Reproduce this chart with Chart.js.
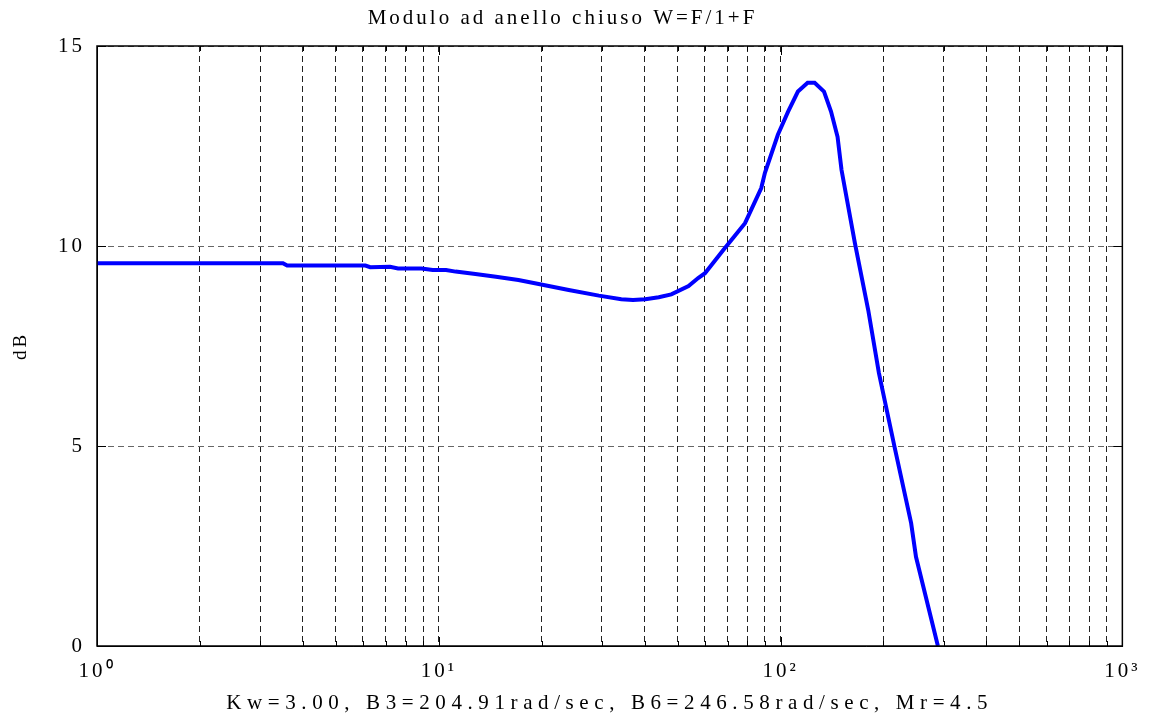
<!DOCTYPE html>
<html>
<head>
<meta charset="utf-8">
<script src="https://cdn.jsdelivr.net/npm/chart.js@4.4.1/dist/chart.umd.min.js"></script>
<style>
  html, body { margin: 0; padding: 0; background: #fff; }
  #wrap { width: 1149px; height: 718px; }
</style>
</head>
<body>
<div id="wrap"><canvas id="c" width="1149" height="718"></canvas></div>
<script>
// ---- data ----
const freqs = [1, 2, 3, 3.5, 3.6, 6.1, 6.3, 7.2, 7.6, 8.9, 9.6, 10.5, 11.2, 12.8, 14.7, 17.1, 19.6, 24, 29.4, 34.2, 37, 40.2, 44, 47.9, 53.8, 57.4, 60.1, 68, 78.7, 87.8, 90, 98.2, 105.2, 112.4, 120, 125.8, 134, 140.5, 146.8, 150.8, 165, 180.5, 194, 215.5, 241, 249, 288.6];
const magsDb = [9.57, 9.57, 9.57, 9.57, 9.51, 9.51, 9.47, 9.48, 9.44, 9.44, 9.40, 9.40, 9.36, 9.30, 9.23, 9.15, 9.05, 8.90, 8.76, 8.67, 8.65, 8.67, 8.72, 8.79, 9.00, 9.20, 9.32, 9.90, 10.57, 11.45, 11.83, 12.78, 13.36, 13.86, 14.08, 14.08, 13.86, 13.36, 12.73, 11.90, 10.07, 8.40, 6.82, 4.98, 3.07, 2.23, 0.0];

const xTickValues = [1,2,3,4,5,6,7,8,9,10,20,30,40,50,60,70,80,90,100,200,300,400,500,600,700,800,900,1000];
const decadeValues = [1, 10, 100, 1000];
const decadeLabels = ['10\u2070', '10\u00B9', '10\u00B2', '10\u00B3'];
const yTickValues = [0, 5, 10, 15];

const titleText = 'Modulo ad anello chiuso W=F/1+F';
const xTitleText = 'Kw=3.00, B3=204.91rad/sec, B6=246.58rad/sec, Mr=4.5';
const yTitleText = 'dB';

// ---- chart ----
const FONT = '"Liberation Serif", "Times New Roman", serif';
const points = freqs.map((f, i) => ({ x: f, y: magsDb[i] }));

const spacingPlugin = {
  id: 'spacing',
  beforeDraw(chart) {
    chart.ctx.letterSpacing = '3px';
    const xs = chart.scales.x;
    if (xs && !xs._wrappedTitle) {
      const orig = xs.drawTitle;
      xs.drawTitle = function () {
        const ctx = this.ctx;
        const prev = ctx.letterSpacing;
        ctx.letterSpacing = '5.6px';
        orig.apply(this, arguments);
        ctx.letterSpacing = prev;
      };
      xs._wrappedTitle = true;
    }
  }
};

const boxPlugin = {
  id: 'box',
  afterDraw(chart) {
    const { ctx, chartArea: a, scales } = chart;
    ctx.save();
    ctx.setLineDash([]);
    ctx.strokeStyle = '#000';
    ctx.lineWidth = 1;
    ctx.beginPath();
    xTickValues.forEach(v => {
      const px = Math.round(scales.x.getPixelForValue(v)) + 0.5;
      const len = decadeValues.includes(v) ? 9 : 5;
      ctx.moveTo(px, a.bottom); ctx.lineTo(px, a.bottom - len);
      ctx.moveTo(px, a.top); ctx.lineTo(px, a.top + len);
    });
    yTickValues.forEach(v => {
      const py = Math.round(scales.y.getPixelForValue(v)) + 0.5;
      ctx.moveTo(a.left, py); ctx.lineTo(a.left + 9, py);
      ctx.moveTo(a.right, py); ctx.lineTo(a.right - 9, py);
    });
    ctx.stroke();
    ctx.lineWidth = 1.5;
    ctx.strokeRect(a.left, a.top, a.right - a.left, a.bottom - a.top);
    ctx.restore();
  }
};

new Chart(document.getElementById('c'), {
  type: 'line',
  data: {
    datasets: [{
      data: points,
      borderColor: '#0000FF',
      borderWidth: 4,
      pointRadius: 0,
      tension: 0,
      fill: false
    }]
  },
  options: {
    responsive: false,
    animation: false,
    devicePixelRatio: 1,
    layout: { padding: { left: 0, right: 24, top: 0, bottom: 0 } },
    plugins: {
      legend: { display: false },
      tooltip: { enabled: false },
      title: {
        display: true,
        text: titleText,
        color: '#000',
        font: { family: FONT, size: 21, weight: 'normal' },
        padding: { top: 6, bottom: 14.8 }
      }
    },
    scales: {
      x: {
        type: 'logarithmic',
        min: 1,
        max: 1000,
        afterBuildTicks(scale) {
          scale.ticks = xTickValues.map(v => ({ value: v, major: decadeValues.includes(v) }));
        },
        afterFit(scale) { scale.height = 72; },
        grid: { color: '#222', lineWidth: 1, drawTicks: false },
        border: { display: true, color: '#000', dash: [6, 4] },
        ticks: {
          autoSkip: false,
          maxRotation: 0,
          padding: 13,
          color: '#000',
          font: { family: FONT, size: 21 },
          callback(value) {
            const i = decadeValues.indexOf(value);
            return i >= 0 ? decadeLabels[i] : '';
          }
        },
        title: {
          display: true,
          text: xTitleText,
          color: '#000',
          font: { family: FONT, size: 21 },
          padding: { top: 0, bottom: 2 }
        }
      },
      y: {
        type: 'linear',
        min: 0,
        max: 15,
        afterBuildTicks(scale) {
          scale.ticks = yTickValues.map(v => ({ value: v }));
        },
        afterFit(scale) { scale.width = 97; },
        grid: { color: '#666', lineWidth: 1, drawTicks: false },
        border: { display: true, color: '#000', dash: [6, 4] },
        ticks: {
          padding: 12,
          color: '#000',
          font: { family: FONT, size: 21 }
        },
        title: {
          display: true,
          text: yTitleText,
          color: '#000',
          font: { family: FONT, size: 19 },
          padding: { top: 10, bottom: 0 }
        }
      }
    }
  },
  plugins: [spacingPlugin, boxPlugin]
});
</script>
</body>
</html>
